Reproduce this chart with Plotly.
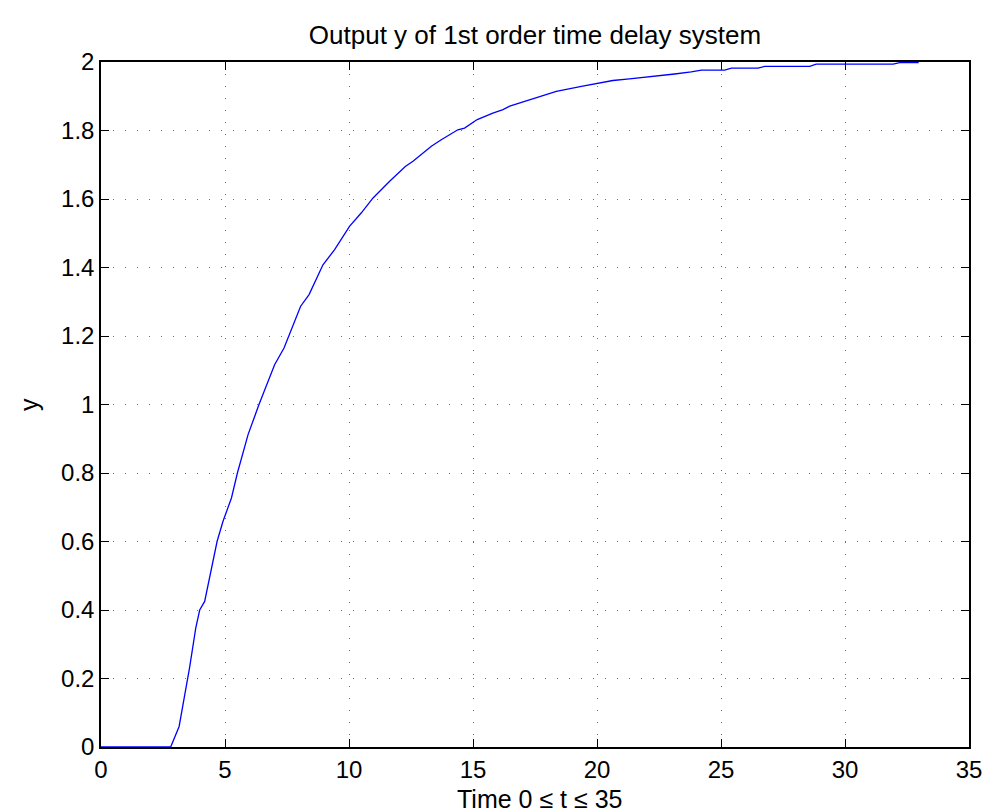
import plotly.graph_objects as go

# Values
t_vals = [0, 2.81, 3.15, 3.57, 3.82, 3.98, 4.18, 4.68, 4.92, 5.26, 5.5, 5.93, 6.37,
          7.0, 7.38, 7.57, 8.05, 8.39, 8.95, 9.42, 10.02, 10.49, 10.97, 11.64,
          12.27, 12.58, 13.32, 13.72, 14.39, 14.66, 15.17, 15.80, 16.21, 16.48,
          17.55, 18.36, 19.37, 20.17, 20.64, 21.31, 22.32, 23.13, 23.80, 24.21,
          25.15, 25.42, 26.49, 26.76, 28.58, 28.84, 31.94, 32.21, 32.97]
y_vals = [0, 0, 0.06, 0.231, 0.347, 0.40, 0.425, 0.60, 0.659, 0.727, 0.80, 0.912, 1.0,
          1.116, 1.165, 1.2, 1.287, 1.321, 1.408, 1.452, 1.520, 1.559, 1.603, 1.652,
          1.695, 1.710, 1.754, 1.773, 1.802, 1.807, 1.832, 1.851, 1.861, 1.871,
          1.895, 1.914, 1.929, 1.940, 1.946, 1.951, 1.958, 1.965, 1.971, 1.976,
          1.976, 1.982, 1.982, 1.987, 1.987, 1.994, 1.994, 1.998, 1.998]

x_ticks = [0, 5, 10, 15, 20, 25, 30, 35]
y_ticks = [0, 0.2, 0.4, 0.6, 0.8, 1, 1.2, 1.4, 1.6, 1.8, 2]

title_text = "Output y of 1st order time delay system"
x_label = "Time 0 \u2264 t \u2264 35"
y_label = "y"

FONT = "Liberation Sans, Arial, Helvetica, sans-serif"

fig = go.Figure()
fig.add_trace(go.Scatter(x=t_vals, y=y_vals, mode="lines",
                         line=dict(color="#0000ff", width=1.3),
                         showlegend=False, hoverinfo="skip"))

axis_common = dict(
    showline=True, linecolor="black", linewidth=1.5, mirror="ticks",
    ticks="inside", ticklen=8, tickwidth=1, tickcolor="black",
    showgrid=True, gridcolor="#707070", gridwidth=1, griddash="1px,11px",
    zeroline=False, layer="below traces",
    tickfont=dict(family=FONT, size=24, color="black"),
)

fig.update_layout(
    width=998, height=812,
    margin=dict(l=93, r=37, t=54, b=73),
    paper_bgcolor="white", plot_bgcolor="white",
    title=dict(text=title_text, xref="paper", x=0.5, xanchor="center",
               yref="container", y=1 - 27 / 812, yanchor="middle",
               font=dict(family=FONT, size=26, color="black")),
    xaxis=dict(range=[0, 35], tickvals=x_ticks, ticktext=[str(v) for v in x_ticks],
               **axis_common),
    yaxis=dict(range=[0, 2], tickvals=y_ticks, ticktext=[f"{v:g}" for v in y_ticks],
               **axis_common),
    annotations=[
        dict(text=x_label, xref="paper", yref="paper", x=(531 - 93) / 868, y=(739 - 791) / 685,
             xanchor="center", yanchor="middle", showarrow=False,
             font=dict(family=FONT, size=25, color="black")),
        dict(text=y_label, xref="paper", yref="paper", x=(20.5 - 93) / 868, y=0.5,
             xanchor="center", yanchor="middle", textangle=-90, showarrow=False,
             font=dict(family=FONT, size=25, color="black")),
    ],
)

fig.write_html("out.html")
